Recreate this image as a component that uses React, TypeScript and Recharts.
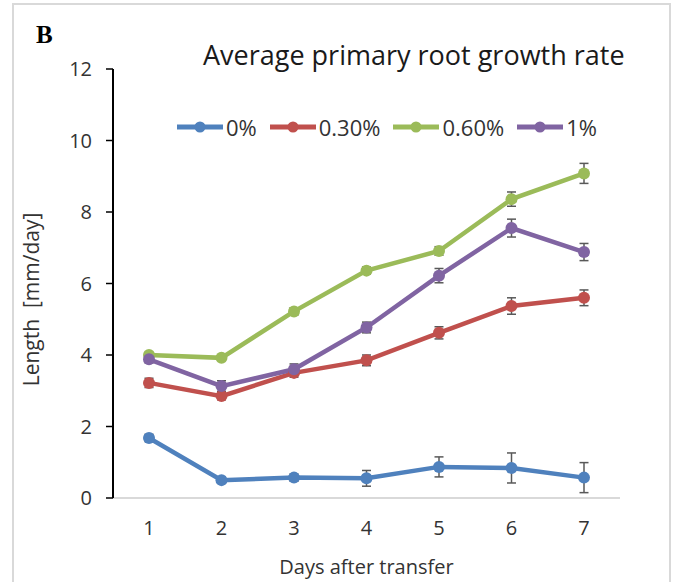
import { LineChart, Line, XAxis, YAxis, ErrorBar, Legend } from 'recharts'

const days = ['1', '2', '3', '4', '5', '6', '7']
const yTicks = [0, 2, 4, 6, 8, 10, 12]

// mean growth rate per concentration, mm/day
const conc0 = [1.68, 0.5, 0.57, 0.55, 0.87, 0.84, 0.57]
const conc030 = [3.22, 2.85, 3.5, 3.85, 4.62, 5.37, 5.6]
const conc060 = [4.0, 3.92, 5.22, 6.36, 6.91, 8.36, 9.08]
const conc1 = [3.88, 3.13, 3.6, 4.77, 6.22, 7.55, 6.88]

// standard error for each point
const err0 = [0.1, 0.08, 0.1, 0.22, 0.28, 0.42, 0.42]
const err030 = [0.13, 0.1, 0.12, 0.15, 0.17, 0.23, 0.22]
const err060 = [0.07, 0.06, 0.1, 0.1, 0.12, 0.2, 0.28]
const err1 = [0.1, 0.15, 0.15, 0.15, 0.2, 0.25, 0.24]

const seriesNames = ['0%', '0.30%', '0.60%', '1%']
const seriesColors = ['#4f81bd', '#c0504d', '#9bbb59', '#8064a2']

const data = days.map((day, i) => ({
  day,
  s0: conc0[i],
  e0: err0[i],
  s1: conc030[i],
  e1: err030[i],
  s2: conc060[i],
  e2: err060[i],
  s3: conc1[i],
  e3: err1[i],
}))

const FONT = '"Open Sans", Lato, sans-serif'
const TEXT = '#333333'

function LegendRow() {
  return (
    <div style={{ display: 'flex', alignItems: 'center', paddingLeft: 177, fontFamily: FONT, fontSize: 22, color: TEXT }}>
      {seriesNames.map((name, i) => (
        <div key={name} style={{ display: 'flex', alignItems: 'center', marginRight: 13 }}>
          <svg width={46} height={14}>
            <line x1={0} x2={46} y1={7} y2={7} stroke={seriesColors[i]} strokeWidth={5} />
            <circle cx={23} cy={7} r={5.5} fill={seriesColors[i]} />
          </svg>
          <span style={{ marginLeft: 3, lineHeight: '26px' }}>{name}</span>
        </div>
      ))}
    </div>
  )
}

function YTitle({ viewBox }: any) {
  const cx = 31
  const cy = viewBox.y + viewBox.height / 2 + 16
  return (
    <text
      x={cx}
      y={cy}
      transform={`rotate(-90, ${cx}, ${cy})`}
      textAnchor="middle"
      dominantBaseline="central"
      fontFamily={FONT}
      fontSize={21}
      fill={TEXT}
      style={{ whiteSpace: 'pre' }}
    >
      {'Length  [mm/day]'}
    </text>
  )
}

export default function App() {
  return (
    <div style={{ position: 'absolute', left: 0, top: 0, width: 678, height: 582, background: '#fff', overflow: 'hidden' }}>
      <div
        style={{
          position: 'absolute',
          left: 12,
          top: 3,
          width: 655,
          height: 600,
          borderTop: '2px solid #d9d9d9',
          borderLeft: '2px solid #d9d9d9',
          borderRight: '2px solid #d9d9d9',
        }}
      />
      <div style={{ position: 'absolute', left: 36, top: 21, fontFamily: '"Liberation Serif", serif', fontWeight: 'bold', fontSize: 25, color: '#000' }}>
        B
      </div>
      <div style={{ position: 'absolute', left: 203, top: 36, fontFamily: FONT, fontSize: 27, color: '#1a1a1a', whiteSpace: 'nowrap' }}>
        Average primary root growth rate
      </div>
      <LineChart width={678} height={582} data={data} margin={{ top: 69, right: 58, bottom: 0, left: 0 }}>
        <XAxis
          dataKey="day"
          height={84}
          padding={{ left: 36, right: 36 }}
          tickLine={false}
          tickSize={0}
          tickMargin={23}
          axisLine={{ stroke: '#d9d9d9', strokeWidth: 2 }}
          tick={{ fill: TEXT, fontSize: 20, fontFamily: FONT }}
          label={{ value: 'Days after transfer', position: 'insideBottom', offset: 8, fill: TEXT, fontSize: 20, fontFamily: FONT }}
        />
        <YAxis
          width={113}
          domain={[0, 12]}
          ticks={yTicks}
          interval={0}
          tickSize={7}
          tickMargin={14}
          axisLine={{ stroke: '#000', strokeWidth: 2 }}
          tickLine={{ stroke: '#000', strokeWidth: 1.5 }}
          tick={{ fill: TEXT, fontSize: 20, fontFamily: FONT }}
          label={<YTitle />}
        />
        <Legend
          layout="horizontal"
          verticalAlign="middle"
          align="center"
          width={678}
          wrapperStyle={{ top: 114, left: 0 }}
          content={() => <LegendRow />}
        />
        {seriesNames.map((name, i) => (
          <Line
            key={name}
            name={name}
            dataKey={`s${i}`}
            stroke={seriesColors[i]}
            strokeWidth={4.5}
            dot={{ r: 6, fill: seriesColors[i], stroke: seriesColors[i], strokeWidth: 0 }}
            activeDot={false}
            isAnimationActive={false}
          >
            <ErrorBar dataKey={`e${i}`} direction="y" width={4.5} strokeWidth={1.5} stroke="#595959" isAnimationActive={false} />
          </Line>
        ))}
      </LineChart>
    </div>
  )
}
